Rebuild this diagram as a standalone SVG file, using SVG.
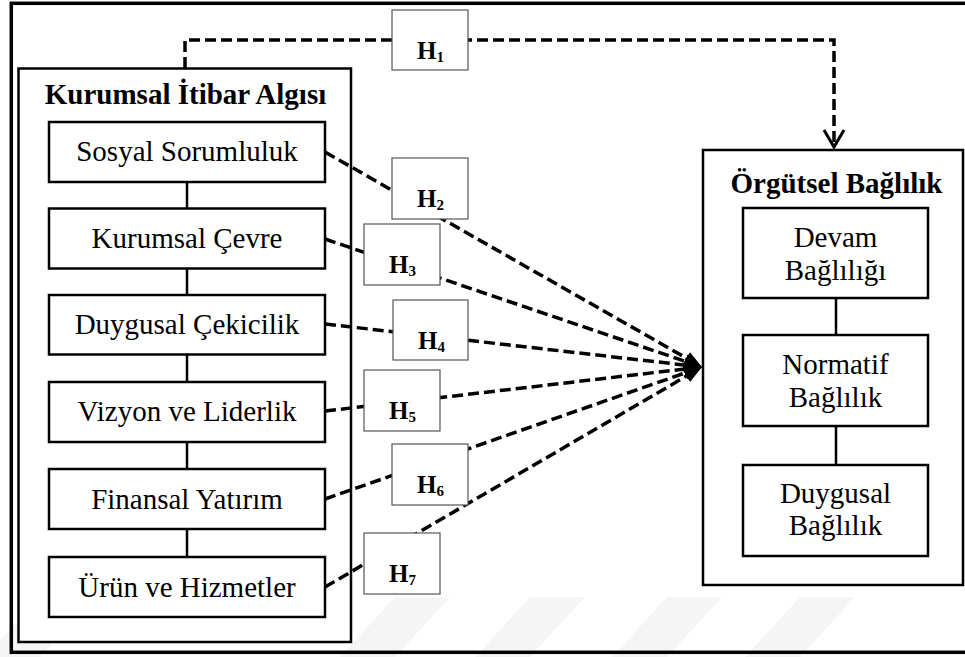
<svg xmlns="http://www.w3.org/2000/svg" width="965" height="657" viewBox="0 0 965 657">
  <style>
    .frame { fill: none; stroke: #000; stroke-width: 3.5; }
    .group { fill: #fff; stroke: #000; stroke-width: 2.5; }
    .item { fill: #fff; stroke: #000; stroke-width: 2.5; }
    .hyp { fill: #fff; stroke: #555; stroke-width: 1.2; }
    .link { stroke: #000; stroke-width: 2.5; }
    .dash { fill: none; stroke: #000; stroke-width: 3.5; stroke-dasharray: 11 5; }
    text { font-family: 'Liberation Serif', serif; fill: #000; }
    .title { font-size: 29px; font-weight: bold; text-anchor: middle; }
    .label { font-size: 29px; text-anchor: middle; }
    .h { font-size: 25px; font-weight: bold; }
    .sub { font-size: 15px; }
    .wm { fill: #f5f5f5; }
  </style>
  <defs>
    <marker id="solidHead" markerUnits="userSpaceOnUse" viewBox="0 0 18 14" markerWidth="18" markerHeight="14" refX="10" refY="7" orient="auto">
      <path d="M0,0 L18,7 L0,14 Z" fill="#000"/>
    </marker>
    <marker id="openHead" markerUnits="userSpaceOnUse" viewBox="-2 -2 22 24" markerWidth="22" markerHeight="24" refX="17" refY="10" orient="auto" overflow="visible">
      <path d="M0,0 L17,10 L0,20" fill="none" stroke="#000" stroke-width="3" stroke-dasharray="none"/>
    </marker>
  </defs>

  <rect x="0" y="0" width="965" height="657" fill="#fff"/>

  <!-- faint slanted bars along the bottom edge -->
  <g id="watermark">
    <polygon class="wm" points="40,597 95,597 40,657 -15,657"/>
    <polygon class="wm" points="395,597 450,597 395,657 340,657"/>
    <polygon class="wm" points="530,597 585,597 530,657 475,657"/>
    <polygon class="wm" points="667,597 722,597 667,657 612,657"/>
    <polygon class="wm" points="800,597 855,597 800,657 745,657"/>
  </g>

  <!-- outer frame -->
  <rect class="frame" x="11.3" y="3.3" width="970" height="649"/>

  <!-- left construct -->
  <g id="kurumsal-itibar">
    <rect class="group" x="18.5" y="68.5" width="332.5" height="573.5"/>
    <text class="title" x="185.5" y="104">Kurumsal İtibar Algısı</text>
    <line class="link" x1="187" y1="182" x2="187" y2="557"/>
  </g>
  <g id="sosyal-sorumluluk">
    <rect class="item" x="49" y="122" width="276" height="60"/>
    <text class="label" x="187" y="161">Sosyal Sorumluluk</text>
  </g>
  <g id="kurumsal-cevre">
    <rect class="item" x="49" y="208.5" width="276" height="60"/>
    <text class="label" x="187" y="248">Kurumsal Çevre</text>
  </g>
  <g id="duygusal-cekicilik">
    <rect class="item" x="49" y="295" width="276" height="59.5"/>
    <text class="label" x="187" y="334">Duygusal Çekicilik</text>
  </g>
  <g id="vizyon-liderlik">
    <rect class="item" x="49" y="382" width="276" height="60"/>
    <text class="label" x="187" y="421">Vizyon ve Liderlik</text>
  </g>
  <g id="finansal-yatirim">
    <rect class="item" x="49" y="469" width="276" height="60"/>
    <text class="label" x="187" y="508.5">Finansal Yatırım</text>
  </g>
  <g id="urun-hizmetler">
    <rect class="item" x="49" y="557" width="276" height="60"/>
    <text class="label" x="187" y="596.5">Ürün ve Hizmetler</text>
  </g>

  <!-- right construct -->
  <g id="orgutsel-baglilik">
    <rect class="group" x="703" y="150" width="260" height="435"/>
    <text class="title" x="836.5" y="193">Örgütsel Bağlılık</text>
    <line class="link" x1="836" y1="298" x2="836" y2="465"/>
  </g>
  <g id="devam-baglilik">
    <rect class="item" x="743" y="208" width="185" height="90"/>
    <text class="label" x="835.5" y="247">Devam</text>
    <text class="label" x="835.5" y="280">Bağlılığı</text>
  </g>
  <g id="normatif-baglilik">
    <rect class="item" x="743" y="335" width="185" height="91"/>
    <text class="label" x="835.5" y="374">Normatif</text>
    <text class="label" x="835.5" y="407">Bağlılık</text>
  </g>
  <g id="duygusal-baglilik">
    <rect class="item" x="743" y="465" width="185" height="91"/>
    <text class="label" x="835.5" y="503">Duygusal</text>
    <text class="label" x="835.5" y="535">Bağlılık</text>
  </g>

  <!-- connectors -->
  <g id="connectors">
    <path class="dash" d="M185,68 V40 H834 V147" marker-end="url(#openHead)"/>
    <line class="dash" x1="325" y1="152" x2="695.05" y2="363.04" marker-end="url(#solidHead)"/>
    <line class="dash" x1="325" y1="239" x2="694.4" y2="364.4" marker-end="url(#solidHead)"/>
    <line class="dash" x1="325" y1="324" x2="694.05" y2="366.1" marker-end="url(#solidHead)"/>
    <line class="dash" x1="325" y1="411" x2="694.05" y2="367.93" marker-end="url(#solidHead)"/>
    <line class="dash" x1="325" y1="499" x2="694.45" y2="369.64" marker-end="url(#solidHead)"/>
    <line class="dash" x1="325" y1="587" x2="695.09" y2="371.03" marker-end="url(#solidHead)"/>
  </g>

  <!-- hypothesis labels -->
  <g id="h1">
    <rect class="hyp" x="392" y="10" width="76" height="60"/>
    <text class="h" x="417" y="58.5">H<tspan class="sub" dy="3">1</tspan></text>
  </g>
  <g id="h2">
    <rect class="hyp" x="392" y="158" width="76" height="61"/>
    <text class="h" x="417" y="207">H<tspan class="sub" dy="3">2</tspan></text>
  </g>
  <g id="h3">
    <rect class="hyp" x="364" y="224" width="76" height="61"/>
    <text class="h" x="389" y="273">H<tspan class="sub" dy="3">3</tspan></text>
  </g>
  <g id="h4">
    <rect class="hyp" x="393" y="300" width="75" height="60"/>
    <text class="h" x="418" y="348.5">H<tspan class="sub" dy="3">4</tspan></text>
  </g>
  <g id="h5">
    <rect class="hyp" x="364" y="370" width="76" height="61"/>
    <text class="h" x="389" y="419">H<tspan class="sub" dy="3">5</tspan></text>
  </g>
  <g id="h6">
    <rect class="hyp" x="392" y="444" width="76" height="61"/>
    <text class="h" x="417" y="493">H<tspan class="sub" dy="3">6</tspan></text>
  </g>
  <g id="h7">
    <rect class="hyp" x="364" y="533" width="76" height="61"/>
    <text class="h" x="389" y="582">H<tspan class="sub" dy="3">7</tspan></text>
  </g>
</svg>
